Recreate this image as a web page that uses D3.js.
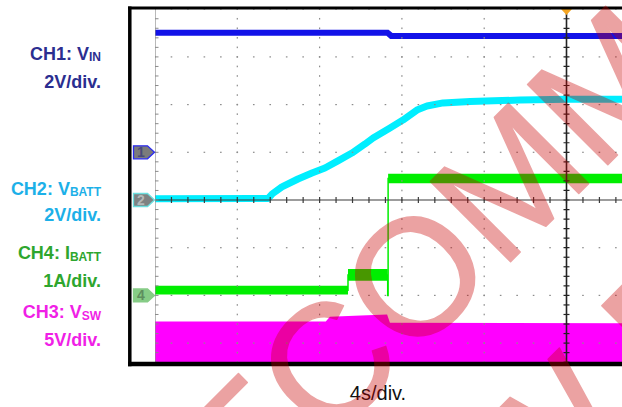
<!DOCTYPE html>
<html>
<head>
<meta charset="utf-8">
<script src="https://cdn.jsdelivr.net/npm/d3@7"></script>
<style>
  html, body { margin: 0; padding: 0; background: #fff; overflow: hidden; }
  svg { display: block; }
</style>
</head>
<body>
<svg id="scope" width="622" height="407"></svg>
<script>
// ---- Scope capture: charger start-up, 4 s/div ----
const screenTime = [0, 40];            // s across the 10 horizontal divisions

// CH1: VIN (V)
const ch1Time  = [0, 11.30, 11.48, 23];
const ch1Volts = [5.01, 5.01, 4.88, 4.88];

// CH2: VBATT (V)
const ch2Time  = [0, 5.49, 5.69, 6.17, 6.95, 7.63, 8.26, 8.89, 9.57, 10.21, 10.60,
                  11.42, 12.05, 12.73, 13.22, 14.0, 15.31, 17.74, 20.02, 23];
const ch2Volts = [0.05, 0.06, 0.25, 0.55, 0.88, 1.13, 1.34, 1.64, 1.97, 2.35, 2.60,
                  3.02, 3.35, 3.77, 3.94, 4.07, 4.13, 4.19, 4.22, 4.22];

// CH4: IBATT (A), step levels and their ripple band (A p-p)
const ch4Time   = [0, 9.38, 11.31, 11.33, 23];
const ch4Amps   = [0.11, 0.43, 0.0, 2.45, 2.45];
const ch4Ripple = [0.18, 0.25, 0.0, 0.20, 0.20];

// CH3: VSW (V), upper envelope of the switching node
const ch3Time  = [0, 8.30, 8.50, 10.0, 11.28, 11.42, 23];
const ch3Volts = [4.76, 4.76, 5.25, 5.40, 5.50, 4.64, 4.57];

// Channel legend
const chanNames = ["CH1: V", "CH2: V", "CH4: I", "CH3: V"];
const chanSubs  = ["IN", "BATT", "BATT", "SW"];
const chanScales = ["2V/div.", "2V/div.", "1A/div.", "5V/div."];
const timeLabel = "4s/div.";
const watermarkLines = ["NOT RECOMMENDED", "FOR NEW DESIGNS"];

// ---- Layout ----
const gLeft = 155, divW = 82.3, divH = 47.7, gMidY = 200;
const gTop = gMidY - 4 * divH, gBottom = gMidY + 4 * divH;
const frameBottom = 364;

const svg = d3.select("#scope");

const x = d3.scaleLinear().domain(screenTime).range([gLeft, gLeft + 10 * divW]);
// value -> screen for a channel with given units/div and offset (in divisions)
function chanY(perDiv, offsetDiv) {
  return d3.scaleLinear()
    .domain([(-4 - offsetDiv) * perDiv, (4 - offsetDiv) * perDiv])
    .range([gBottom, gTop]);
}
const y1 = chanY(2, 1);
const y2 = chanY(2, 0);
const y4 = chanY(1, -2);
const y3 = chanY(5, -3.5);

const defs = svg.append("defs");
defs.append("clipPath").attr("id", "screen")
  .append("rect").attr("x", gLeft).attr("y", gTop)
  .attr("width", 10 * divW).attr("height", frameBottom - gTop);

const traces = svg.append("g").attr("clip-path", "url(#screen)");

// CH3 switching envelope, filled down to the bottom of the screen
const ch3 = ch3Time.map((t, i) => ({ t, v: ch3Volts[i] }));
traces.append("path")
  .datum(ch3)
  .attr("fill", "#ff00ff")
  .attr("d", d3.area().x(d => x(d.t)).y0(gBottom).y1(d => y3(d.v)));

// CH1 VIN
const ch1 = ch1Time.map((t, i) => ({ t, v: ch1Volts[i] }));
traces.append("path")
  .datum(ch1)
  .attr("fill", "none").attr("stroke", "#1212e8").attr("stroke-width", 6)
  .attr("d", d3.line().x(d => x(d.t)).y(d => y1(d.v)));

// CH2 VBATT
const ch2 = ch2Time.map((t, i) => ({ t, v: ch2Volts[i] }));
traces.append("path")
  .datum(ch2)
  .attr("fill", "none").attr("stroke", "#00eeff").attr("stroke-width", 7)
  .attr("stroke-linejoin", "round")
  .attr("d", d3.line().x(d => x(d.t)).y(d => y2(d.v)));

// CH4 IBATT: ripple band plus the thin transition trace
const ch4 = ch4Time.map((t, i) => ({ t, v: ch4Amps[i], r: ch4Ripple[i] }));
traces.append("path")
  .datum(ch4)
  .attr("fill", "#00ee00")
  .attr("d", d3.area().curve(d3.curveStepAfter)
    .x(d => x(d.t)).y0(d => y4(d.v - d.r / 2)).y1(d => y4(d.v + d.r / 2)));
traces.append("path")
  .datum(ch4)
  .attr("fill", "none").attr("stroke", "#00ee00").attr("stroke-width", 1.5)
  .attr("d", d3.line().curve(d3.curveStepAfter).x(d => x(d.t)).y(d => y4(d.v)));

// ---- Graticule ----
const grid = svg.append("g").attr("clip-path", "url(#screen)");
const sub = 5;
// dotted horizontal division lines
for (let k = 0; k <= 8; k++) {
  if (k === 4) continue;
  const yy = gTop + k * divH;
  grid.selectAll(null).data(d3.range(0, 10 * sub + 1)).enter().append("rect")
    .attr("x", i => gLeft + i * divW / sub - 0.8).attr("y", yy - 0.6)
    .attr("width", 1.6).attr("height", 1.2).attr("fill", "#8c8c8c");
}
// dotted vertical division lines
for (let j = 1; j <= 9; j++) {
  if (j === 5) continue;
  const xx = gLeft + j * divW;
  grid.selectAll(null).data(d3.range(0, 8 * sub + 1)).enter().append("rect")
    .attr("x", xx - 0.6).attr("y", i => gTop + i * divH / sub - 0.8)
    .attr("width", 1.2).attr("height", 1.6).attr("fill", "#8c8c8c");
}
// centre horizontal axis with minor ticks
grid.append("line").attr("x1", gLeft).attr("x2", gLeft + 10 * divW)
  .attr("y1", gMidY).attr("y2", gMidY).attr("stroke", "#3a3a3a").attr("stroke-width", 1.2);
grid.selectAll(null).data(d3.range(1, 10 * sub)).enter().append("line")
  .attr("x1", i => gLeft + i * divW / sub).attr("x2", i => gLeft + i * divW / sub)
  .attr("y1", gMidY - 3).attr("y2", gMidY + 3)
  .attr("stroke", "#3a3a3a").attr("stroke-width", 1.2);
// centre vertical axis with minor ticks
const cx = gLeft + 5 * divW;
grid.append("line").attr("x1", cx).attr("x2", cx)
  .attr("y1", gTop).attr("y2", gBottom).attr("stroke", "#222").attr("stroke-width", 1.6);
grid.selectAll(null).data(d3.range(1, 8 * sub)).enter().append("line")
  .attr("x1", cx - 3).attr("x2", cx + 3)
  .attr("y1", i => gTop + i * divH / sub).attr("y2", i => gTop + i * divH / sub)
  .attr("stroke", "#222").attr("stroke-width", 1.2);
// left screen edge with ticks
grid.append("line").attr("x1", gLeft).attr("x2", gLeft)
  .attr("y1", gTop).attr("y2", gBottom).attr("stroke", "#8a8a8a").attr("stroke-width", 1.2);
grid.selectAll(null).data(d3.range(1, 8 * sub)).enter().append("line")
  .attr("x1", gLeft).attr("x2", gLeft + 3.5)
  .attr("y1", i => gTop + i * divH / sub).attr("y2", i => gTop + i * divH / sub)
  .attr("stroke", "#8a8a8a").attr("stroke-width", 1);

// trigger position marker
svg.append("path")
  .attr("d", `M${cx - 5.5},9 L${cx + 5.5},9 L${cx},15 Z`)
  .attr("fill", "#f5a623");

// ---- Frame ----
svg.append("line").attr("x1", 128).attr("x2", 622).attr("y1", 8).attr("y2", 8)
  .attr("stroke", "#000").attr("stroke-width", 3);
svg.append("line").attr("x1", 129.8).attr("x2", 129.8).attr("y1", 6.5).attr("y2", 366.3)
  .attr("stroke", "#000").attr("stroke-width", 3.5);
svg.append("line").attr("x1", 128).attr("x2", 622).attr("y1", frameBottom).attr("y2", frameBottom)
  .attr("stroke", "#000").attr("stroke-width", 4.5);

// ---- Channel ground markers ----
const markers = [
  { n: "1", y: y1(0), fill: "#7b7b7b", stroke: "#2a2af0", text: "#4a4a7a" },
  { n: "2", y: y2(0), fill: "#7e8282", stroke: "#6cdede", text: "#b4b8b8" },
  { n: "4", y: y4(0), fill: "#86cc86", stroke: "#86cc86", text: "#5e8e5e" }
];
const mk = svg.append("g").selectAll("g").data(markers).enter().append("g");
mk.append("path")
  .attr("d", d => `M133.5,${d.y - 6.5} L147.5,${d.y - 6.5} L154.5,${d.y} L147.5,${d.y + 6.5} L133.5,${d.y + 6.5} Z`)
  .attr("fill", d => d.fill).attr("stroke", d => d.stroke).attr("stroke-width", 1.3);
mk.append("text")
  .attr("x", 141).attr("y", d => d.y + 5)
  .attr("text-anchor", "middle")
  .attr("font-family", "Liberation Sans, Arial, sans-serif")
  .attr("font-weight", "bold").attr("font-size", 14)
  .attr("fill", d => d.text)
  .text(d => d.n);

// ---- Channel legend ----
const legendColors = ["#2b2e90", "#1cb0e8", "#2ea62e", "#f01fe6"];
const legendBase = [59.5, 194.5, 259, 318];
const scaleBase = [88, 220.5, 287, 346];
const leg = svg.append("g")
  .attr("font-family", "Liberation Sans, Arial, sans-serif")
  .attr("font-weight", "bold")
  .attr("text-anchor", "end");
chanNames.forEach((name, i) => {
  const t = leg.append("text").attr("x", 101).attr("y", legendBase[i])
    .attr("font-size", 18).attr("fill", legendColors[i]);
  t.append("tspan").text(name);
  t.append("tspan").attr("font-size", 12).attr("dy", 1.5).text(chanSubs[i]);
  leg.append("text").attr("x", 101).attr("y", scaleBase[i])
    .attr("font-size", 18).attr("fill", legendColors[i]).text(chanScales[i]);
});

// time base label
svg.append("text")
  .attr("x", 378).attr("y", 400)
  .attr("text-anchor", "middle")
  .attr("font-family", "Liberation Sans, Arial, sans-serif")
  .attr("font-size", 20).attr("fill", "#111")
  .text(timeLabel);

// ---- Watermark ----
const wm = svg.append("g")
  .attr("transform", "translate(495.6,276.8) rotate(-45)")
  .attr("opacity", 0.36);
wm.selectAll("text").data(watermarkLines).enter().append("text")
  .attr("x", 0).attr("y", (d, i) => i * 209)
  .attr("text-anchor", "middle")
  .attr("font-family", "Liberation Sans, Arial, sans-serif")
  .attr("font-size", 165)
  .attr("fill", "#c80000")
  .attr("stroke", "#c80000").attr("stroke-width", 1.5)
  .attr("stroke-linejoin", "round")
  .text(d => d);
</script>
</body>
</html>
